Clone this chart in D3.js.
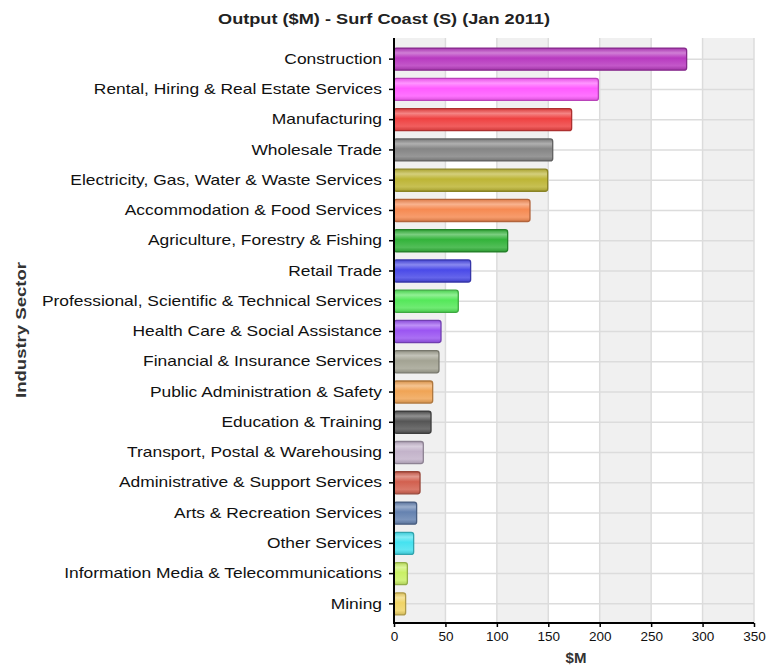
<!DOCTYPE html>
<html><head><meta charset="utf-8">
<script src="https://cdn.jsdelivr.net/npm/d3@7"></script>
<style>body{margin:0;background:#fff;}svg{display:block;font-family:"Liberation Sans",Arial,sans-serif;}</style>
</head><body><svg id="c" width="767" height="667"></svg>
<script>
const categories = ["Construction","Rental, Hiring & Real Estate Services","Manufacturing","Wholesale Trade","Electricity, Gas, Water & Waste Services","Accommodation & Food Services","Agriculture, Forestry & Fishing","Retail Trade","Professional, Scientific & Technical Services","Health Care & Social Assistance","Financial & Insurance Services","Public Administration & Safety","Education & Training","Transport, Postal & Warehousing","Administrative & Support Services","Arts & Recreation Services","Other Services","Information Media & Telecommunications","Mining"];
const values = [284.5,198.7,172.7,154.3,149.4,132.2,110.5,74.5,62.5,45.7,43.7,37.6,36,28.5,25.3,22,19.1,13,11.3];
const colors = ["#b83ac0","#ff5cff","#ef4242","#858585","#bdb535","#f68a52","#33b33a","#4a4ae8","#55e85a","#9b55f2","#a3a393","#f0a455","#555555","#c3b3ca","#d2604f","#6582b0","#45e2f0","#c9f065","#f0d466"];
const xTicks = [0,50,100,150,200,250,300,350];
const title = "Output ($M) - Surf Coast (S) (Jan 2011)";

const svg = d3.select("#c");
const L = 394, R = 754, T = 38, B = 623;
const x = d3.scaleLinear().domain([0,350]).range([L,R]);
const y = d3.scaleBand().domain(categories).range([44,619]).paddingInner(0.27).paddingOuter(0.135);

const g = svg.append("g");
for (let i=0;i<xTicks.length-1;i++){
  g.append("rect").attr("x",x(xTicks[i])).attr("y",T).attr("width",x(xTicks[i+1])-x(xTicks[i])).attr("height",B-T)
   .attr("fill", i%2===0 ? "#f0f0f0" : "#ffffff");
}
g.selectAll("line.v").data(xTicks.slice(1)).join("line").attr("x1",d=>x(d)).attr("x2",d=>x(d)).attr("y1",T).attr("y2",B).attr("stroke","#dcdcdc").attr("stroke-width",1.5);
g.selectAll("line.h").data(categories).join("line").attr("x1",L).attr("x2",R).attr("y1",d=>y(d)+y.bandwidth()/2).attr("y2",d=>y(d)+y.bandwidth()/2).attr("stroke","#dcdcdc").attr("stroke-width",1.5);

const defs = svg.append("defs");
categories.forEach((c,i)=>{
  const col = d3.color(colors[i]);
  const gr = defs.append("linearGradient").attr("id","g"+i).attr("x1",0).attr("x2",0).attr("y1",0).attr("y2",1);
  gr.append("stop").attr("offset","0%").attr("stop-color",col.darker(0.3));
  gr.append("stop").attr("offset","22%").attr("stop-color",d3.interpolateRgb(col,"#fff")(0.35));
  gr.append("stop").attr("offset","45%").attr("stop-color",col);
  gr.append("stop").attr("offset","80%").attr("stop-color",d3.interpolateRgb(col,"#fff")(0.15));
  gr.append("stop").attr("offset","100%").attr("stop-color",col.darker(0.4));
});

svg.append("g").selectAll("rect").data(categories).join("rect")
  .attr("x",x(0)).attr("y",d=>y(d)).attr("height",y.bandwidth())
  .attr("width",(d,i)=>x(values[i])-x(0)).attr("rx",2.5)
  .attr("fill",(d,i)=>`url(#g${i})`).attr("stroke",(d,i)=>d3.color(colors[i]).darker(0.9)).attr("stroke-width",1.3);

function stretch(sel, f){
  sel.each(function(){ const w=this.getComputedTextLength(); d3.select(this).attr("textLength",w*f).attr("lengthAdjust","spacingAndGlyphs"); });
}

const ya = svg.append("g").attr("transform",`translate(${L},0)`).call(d3.axisLeft(y).tickSize(5).tickPadding(7));
ya.select(".domain").remove();
ya.selectAll("text").attr("font-size",14.5).attr("fill","#111").attr("font-family","'Liberation Sans',Arial,sans-serif");
stretch(ya.selectAll("text"), 1.2);
ya.selectAll(".tick line").attr("stroke","#000").attr("stroke-width",1.5);
svg.append("line").attr("x1",L).attr("x2",L).attr("y1",T).attr("y2",B).attr("stroke","#000").attr("stroke-width",2);

const xa = svg.append("g").attr("transform",`translate(0,${B})`).call(d3.axisBottom(x).tickValues(xTicks).tickSize(4).tickPadding(4));
xa.select(".domain").remove();
xa.selectAll("text").attr("font-size",13.5).attr("fill","#111").attr("font-family","'Liberation Sans',Arial,sans-serif");
xa.selectAll(".tick line").attr("stroke","#000").attr("stroke-width",1.5);
svg.append("line").attr("x1",L-1).attr("x2",R).attr("y1",B).attr("y2",B).attr("stroke","#000").attr("stroke-width",2);

svg.append("text").attr("x",384).attr("y",24).attr("text-anchor","middle").attr("font-weight","bold").attr("font-size",15).attr("fill","#222").attr("textLength",332).attr("lengthAdjust","spacingAndGlyphs").text(title);
svg.append("text").attr("x",576).attr("y",663).attr("text-anchor","middle").attr("font-weight","bold").attr("font-size",15).attr("fill","#333").text("$M");
svg.append("text").attr("transform","translate(26,330) rotate(-90)").attr("text-anchor","middle").attr("font-weight","bold").attr("font-size",15).attr("fill","#333").attr("textLength",136).attr("lengthAdjust","spacingAndGlyphs").text("Industry Sector");
</script></body></html>
